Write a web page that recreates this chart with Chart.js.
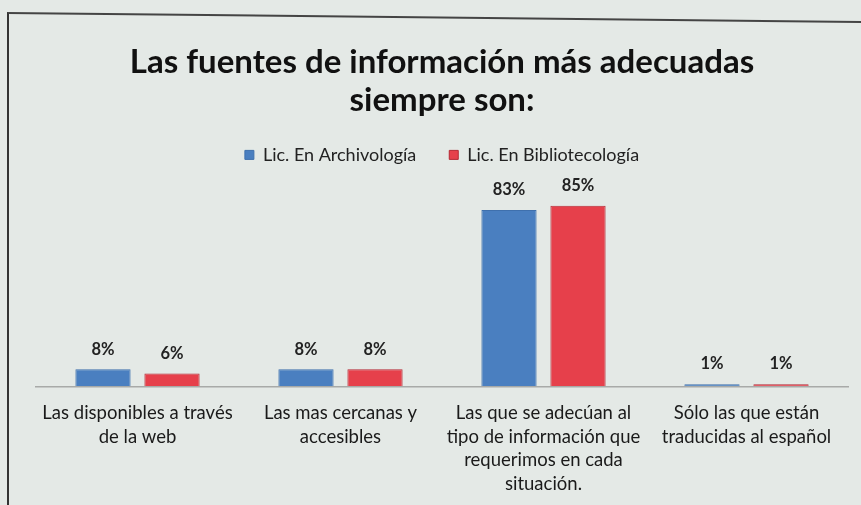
<!DOCTYPE html>
<html>
<head>
<meta charset="utf-8">
<script src="https://cdn.jsdelivr.net/npm/chart.js@4/dist/chart.umd.min.js"></script>
<style>
  html, body { margin: 0; padding: 0; background: #e4e9e6; }
  #wrap { position: relative; width: 861px; height: 505px; overflow: hidden; }
  #frame { position: absolute; left: 7px; top: 12px; width: 900px; height: 600px;
           border-left: 2px solid #333; border-top: 2px solid #444; transform: skewY(0.6deg); transform-origin: 0 0; }
  canvas { position: absolute; left: 0; top: 0; }
</style>
</head>
<body>
<div id="wrap">
  <div id="frame"></div>
  <canvas id="chart" width="861" height="505"></canvas>
</div>
<script>
// datos
var categorias = [
    ["Las disponibles a través", "de la web"],
    ["Las mas cercanas y", "accesibles"],
    ["Las que se adecúan al", "tipo de información que", "requerimos en cada", "situación."],
    ["Sólo las que están", "traducidas al español"]
];
var archivologia = [8, 8, 83, 1];
var bibliotecologia = [6, 8, 85, 1];
var nombresSeries = ["Lic. En Archivología", "Lic. En Bibliotecología"];
var tituloTexto = ["Las fuentes de información más adecuadas", "siempre son:"];

// etiquetas de valor encima de cada barra
var etiquetasValor = {
    id: "etiquetasValor",
    afterDatasetsDraw: function (chart) {
        var ctx = chart.ctx;
        ctx.save();
        ctx.font = "bold 16.5px Lato, 'Open Sans', sans-serif";
        ctx.fillStyle = "#222";
        ctx.textAlign = "center";
        ctx.textBaseline = "middle";
        chart.data.datasets.forEach(function (ds, i) {
            chart.getDatasetMeta(i).data.forEach(function (bar, j) {
                ctx.fillText(ds.data[j] + "%", bar.x, bar.y - 20);
            });
        });
        ctx.restore();
    }
};

var ctx = document.getElementById("chart").getContext("2d");
new Chart(ctx, {
    type: "bar",
    data: {
        labels: categorias,
        datasets: [{
            label: nombresSeries[0],
            data: archivologia,
            backgroundColor: "#4a7fc0",
            borderColor: "#3f70ad",
            borderWidth: 1,
            categoryPercentage: 0.68,
            barPercentage: 0.8
        }, {
            label: nombresSeries[1],
            data: bibliotecologia,
            backgroundColor: "#e6404b",
            borderColor: "#b52a35",
            borderWidth: 1,
            categoryPercentage: 0.68,
            barPercentage: 0.8
        }]
    },
    options: {
        responsive: false,
        animation: false,
        layout: { padding: { left: 36, right: 13, top: 0, bottom: 2 } },
        plugins: {
            title: {
                display: true,
                text: tituloTexto,
                color: "#111",
                font: { family: "Lato, 'Open Sans', sans-serif", size: 33, weight: "bold", lineHeight: 1.15 },
                padding: { top: 43, bottom: -6 }
            },
            legend: {
                display: true,
                labels: {
                    color: "#222",
                    font: { family: "Lato, sans-serif", size: 18 },
                    boxWidth: 9,
                    boxHeight: 9,
                    padding: 33
                }
            },
            tooltip: { enabled: false }
        },
        scales: {
            x: {
                grid: { display: false },
                border: { display: true, color: "#a8aaa8", width: 1.5 },
                ticks: {
                    color: "#1a1a1a",
                    padding: 7,
                    maxRotation: 0,
                    autoSkip: false,
                    font: { family: "Lato, sans-serif", size: 18.5, lineHeight: 1.28 }
                }
            },
            y: {
                display: false,
                min: 0,
                max: 100
            }
        }
    },
    plugins: [etiquetasValor]
});
</script>
</body>
</html>
